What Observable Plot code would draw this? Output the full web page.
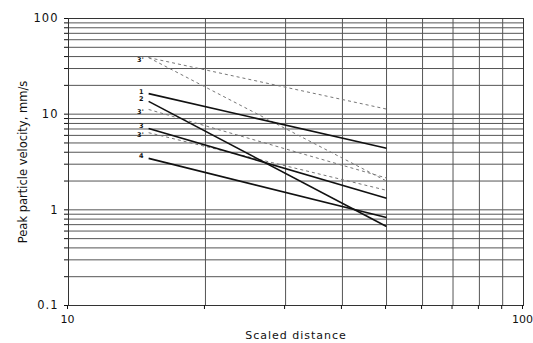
<!DOCTYPE html>
<html>
<head>
<meta charset="utf-8">
<script src="https://cdn.jsdelivr.net/npm/d3@7"></script>
<script src="https://cdn.jsdelivr.net/npm/@observablehq/plot@0.6"></script>
<style>
  html, body { margin: 0; padding: 0; background: #fff; }
  svg text { font-family: "DejaVu Sans", sans-serif; }
</style>
</head>
<body>
<div id="chart"></div>
<script>
// Solid regression lines (labelled 1–4), from scaled distance 15 to 50
const solidLabels = ["1", "2", "3", "4"];
const solidStartX = [15, 15, 15, 15];
const solidStartY = [16.4, 13.6, 7.1, 3.45];
const solidEndX = [50, 50, 50, 50];
const solidEndY = [4.4, 0.67, 1.32, 0.83];

// Dashed lines (labelled 3')
const dashedLabels = ["3'", "", "3'", "3'"];
const dashedStartX = [15, 15, 15, 15];
const dashedStartY = [39, 39, 11.2, 6.4];
const dashedEndX = [50, 50, 50, 50];
const dashedEndY = [11.3, 2.0, 2.15, 1.6];

// Axis tick labels
const xTickLabels = [10, 100];
const yTickLabels = [0.1, 1, 10, 100];

// Grid positions (log grid 1..9 per decade)
const xGrid = [10, 20, 30, 40, 50, 60, 70, 80, 90, 100];
const yGrid = [];
for (const dec of [0.1, 1, 10]) for (let k = 1; k < 10; k++) yGrid.push(+(k * dec).toPrecision(3));
yGrid.push(100);

const solid = solidLabels.map((l, i) => ({label: l, x1: solidStartX[i], y1: solidStartY[i], x2: solidEndX[i], y2: solidEndY[i]}));
const dashed = dashedLabels.map((l, i) => ({label: l, x1: dashedStartX[i], y1: dashedStartY[i], x2: dashedEndX[i], y2: dashedEndY[i]}));

const chart = Plot.plot({
  width: 533,
  height: 343,
  marginLeft: 68,
  marginRight: 10,
  marginTop: 18,
  marginBottom: 38,
  style: {fontFamily: "DejaVu Sans, sans-serif", fontSize: "11px", color: "#111"},
  x: {type: "log", domain: [10, 100]},
  y: {type: "log", domain: [0.1, 100]},
  marks: [
    Plot.ruleX(xGrid, {stroke: "#555", strokeWidth: 1}),
    Plot.ruleY(yGrid, {stroke: "#555", strokeWidth: 1}),
    Plot.frame({stroke: "#333"}),
    Plot.axisX({
      ticks: xGrid, tickSize: 4,
      tickFormat: d => xTickLabels.includes(d) ? String(d) : "",
      tickPadding: 6,
      fontSize: 11,
      dx: -1,
      label: null
    }),
    Plot.axisX({
      ticks: [], tickSize: 0,
      label: "Scaled distance", labelAnchor: "center", labelArrow: "none", labelOffset: 33
    }),
    Plot.axisY({
      ticks: yGrid, tickSize: 4,
      tickFormat: d => yTickLabels.includes(d) ? String(d) : "",
      tickPadding: 6,
      fontSize: 11.5,
      label: "Peak particle velocity, mm/s", labelAnchor: "center", labelArrow: "none", labelOffset: 50
    }),
    Plot.link(dashed, {x1: "x1", y1: "y1", x2: "x2", y2: "y2", stroke: "#777", strokeWidth: 1, strokeDasharray: "3,3"}),
    Plot.link(solid, {x1: "x1", y1: "y1", x2: "x2", y2: "y2", stroke: "#111", strokeWidth: 1.6}),
    Plot.text(solid, {x: "x1", y: "y1", text: "label", textAnchor: "end", dx: -5, dy: -2, fontSize: 6.5, fontWeight: "bold", fill: "#111"}),
    Plot.text(dashed, {x: "x1", y: "y1", text: "label", textAnchor: "end", dx: -5, dy: 2, fontSize: 6.5, fontWeight: "bold", fill: "#111"})
  ]
});
document.getElementById("chart").appendChild(chart);
// approximate the horizontally stretched lettering of the original
d3.select(chart).selectAll("g[aria-label='y-axis tick label'] text, g[aria-label='x-axis label'] text").style("letter-spacing", "1px");
</script>
</body>
</html>
